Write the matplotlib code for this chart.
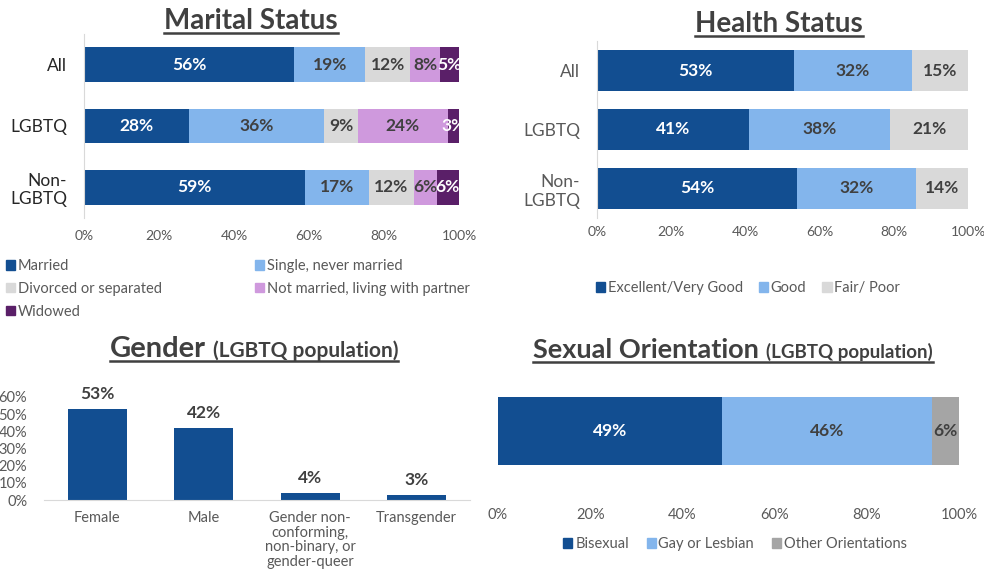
import matplotlib.pyplot as plt
from matplotlib.patches import Patch
from matplotlib.lines import Line2D
from matplotlib.ticker import PercentFormatter

plt.rcParams['font.family'] = ['Lato', 'DejaVu Sans']

# ---- data ----
groups = ['All', 'LGBTQ', 'Non-\nLGBTQ']

marital_labels = ['Married', 'Single, never married', 'Divorced or separated',
                  'Not married, living with partner', 'Widowed']
married = [56, 28, 59]
single = [19, 36, 17]
divorced = [12, 9, 12]
partner = [8, 24, 6]
widowed = [5, 3, 6]

health_labels = ['Excellent/Very Good', 'Good', 'Fair/ Poor']
excellent = [53, 41, 54]
good = [32, 38, 32]
fair = [15, 21, 14]

gender_cats = ['Female', 'Male',
               'Gender non-\nconforming,\nnon-binary, or\ngender-queer',
               'Transgender']
gender_pct = [53, 42, 4, 3]

orient_labels = ['Bisexual', 'Gay or Lesbian', 'Other Orientations']
orient_pct = [49, 46, 6]

# ---- style ----
DARK_BLUE = '#124E91'
LIGHT_BLUE = '#83B5EC'
LIGHT_GRAY = '#D9D9D9'
LAVENDER = '#CF99DD'
PURPLE = '#5A1F68'
MID_GRAY = '#A5A5A5'
TXT = '#404040'
TICK = '#595959'

W, H = 984, 573
fig = plt.figure(figsize=(W / 100, H / 100), dpi=100)


def box(l, t, r, b):
    return [l / W, 1 - b / H, (r - l) / W, (b - t) / H]


def stacked(ax, series, colors, txtcolors, height):
    totals = [sum(v) for v in zip(*series)]
    left = [0] * len(totals)
    ypos = list(range(len(totals)))
    for vals, c, tc in zip(series, colors, txtcolors):
        share = [v / t for v, t in zip(vals, totals)]
        bars = ax.barh(ypos, share, left=left, height=height, color=c)
        ax.bar_label(bars, labels=[f'{v}%' for v in vals], label_type='center',
                     color=tc, fontsize=12.5, fontweight='bold')
        left = [l + s for l, s in zip(left, share)]
    ax.set_xlim(0, 1)
    ax.set_xticks([0, .2, .4, .6, .8, 1])
    ax.xaxis.set_major_formatter(PercentFormatter(1, decimals=0))
    ax.tick_params(length=0, labelsize=10, labelcolor=TICK)
    for s in ax.spines.values():
        s.set_visible(False)


def title(parts, cx, base):
    r = fig.canvas.get_renderer()
    items = [fig.text(0, 1 - base / H, s, fontsize=fs, fontweight='bold',
                      color=TXT, va='baseline', ha='left') for s, fs in parts]
    widths = [t.get_window_extent(r).width for t in items]
    gap = 7
    total = sum(widths) + gap * (len(items) - 1)
    x = cx - total / 2
    for t, w in zip(items, widths):
        t.set_x(x / W)
        x += w + gap
    fig.add_artist(Line2D([(cx - total / 2) / W, (cx + total / 2) / W],
                          [1 - (base + 3.5) / H] * 2, color=TXT, lw=1.8))


# ---- Marital Status ----
ax1 = fig.add_axes(box(84, 34, 459, 218))
stacked(ax1, [married, single, divorced, partner, widowed],
        [DARK_BLUE, LIGHT_BLUE, LIGHT_GRAY, LAVENDER, PURPLE],
        ['white', TXT, TXT, TXT, 'white'], 0.56)
ax1.set_ylim(2.5, -0.5)
ax1.set_yticks(range(len(groups)))
ax1.set_yticklabels(groups, fontsize=12.5, color='#262626')
ax1.tick_params(axis='y', pad=12)
ax1.tick_params(axis='x', pad=9)
ax1.spines['left'].set_visible(True)
ax1.spines['left'].set_color(LIGHT_GRAY)
mcolors = [DARK_BLUE, LIGHT_BLUE, LIGHT_GRAY, LAVENDER, PURPLE]
order = [0, 2, 4, 1, 3]
fig.legend([Patch(color=mcolors[i]) for i in order],
           [marital_labels[i] for i in order],
           loc='upper left', bbox_to_anchor=(6 / W, 1 - 259 / H), ncol=2,
           frameon=False, fontsize=10.5, labelcolor=TICK, handlelength=0.62,
           handleheight=0.62, handletextpad=0.2, borderpad=0, borderaxespad=0,
           labelspacing=0.6, columnspacing=6.4)
title([('Marital Status', 20)], 251, 29)

# ---- Health Status ----
ax2 = fig.add_axes(box(597, 41, 968, 218))
stacked(ax2, [excellent, good, fair], [DARK_BLUE, LIGHT_BLUE, LIGHT_GRAY],
        ['white', TXT, TXT], 0.68)
ax2.set_ylim(2.5, -0.5)
ax2.set_yticks(range(len(groups)))
ax2.set_yticklabels(groups, fontsize=12.5, color=TICK)
ax2.tick_params(axis='y', pad=12)
ax2.tick_params(axis='x', pad=6)
ax2.spines['left'].set_visible(True)
ax2.spines['left'].set_color(LIGHT_GRAY)
fig.legend([Patch(color=c) for c in [DARK_BLUE, LIGHT_BLUE, LIGHT_GRAY]],
           health_labels, loc='center', bbox_to_anchor=(748 / W, 1 - 288 / H),
           ncol=3, frameon=False, fontsize=10.5, labelcolor=TICK,
           handlelength=0.62, handleheight=0.62, handletextpad=0.2,
           borderpad=0, borderaxespad=0, columnspacing=1.1)
title([('Health Status', 20)], 779, 32)

# ---- Gender ----
ax3 = fig.add_axes(box(44, 397, 470, 500))
gb = ax3.bar(range(len(gender_cats)), gender_pct, width=0.55, color=DARK_BLUE)
ax3.bar_label(gb, labels=[f'{v}%' for v in gender_pct], padding=5,
              fontsize=12.5, fontweight='bold', color=TXT)
ax3.set_xlim(-0.5, len(gender_cats) - 0.5)
ax3.set_ylim(0, 60)
ax3.set_yticks(range(0, 61, 10))
ax3.yaxis.set_major_formatter(PercentFormatter(100, decimals=0))
ax3.set_xticks(range(len(gender_cats)))
ax3.set_xticklabels(gender_cats, fontsize=10.5, color=TICK, va='top',
                    linespacing=1.05)
ax3.tick_params(length=0, labelsize=10.5, labelcolor=TICK)
ax3.tick_params(axis='y', pad=12)
ax3.tick_params(axis='x', pad=8)
for s in ax3.spines.values():
    s.set_visible(False)
ax3.spines['bottom'].set_visible(True)
ax3.spines['bottom'].set_color(LIGHT_GRAY)
title([('Gender', 21), ('(LGBTQ population)', 15)], 254, 357)

# ---- Sexual Orientation ----
ax4 = fig.add_axes(box(498, 380, 959, 482))
stacked(ax4, [[v] for v in orient_pct], [DARK_BLUE, LIGHT_BLUE, MID_GRAY],
        ['white', TXT, TXT], 0.667)
ax4.set_ylim(0.5, -0.5)
ax4.set_yticks([])
ax4.tick_params(axis='x', pad=19, labelsize=10.5)
fig.legend([Patch(color=c) for c in [DARK_BLUE, LIGHT_BLUE, MID_GRAY]],
           orient_labels, loc='center', bbox_to_anchor=(735 / W, 1 - 544 / H),
           ncol=3, frameon=False, fontsize=10.5, labelcolor=TICK,
           handlelength=0.62, handleheight=0.62, handletextpad=0.2,
           borderpad=0, borderaxespad=0, columnspacing=1.2)
title([('Sexual Orientation', 19.5), ('(LGBTQ population)', 13.5)], 733, 358)

fig.savefig('out.png', dpi=100)
